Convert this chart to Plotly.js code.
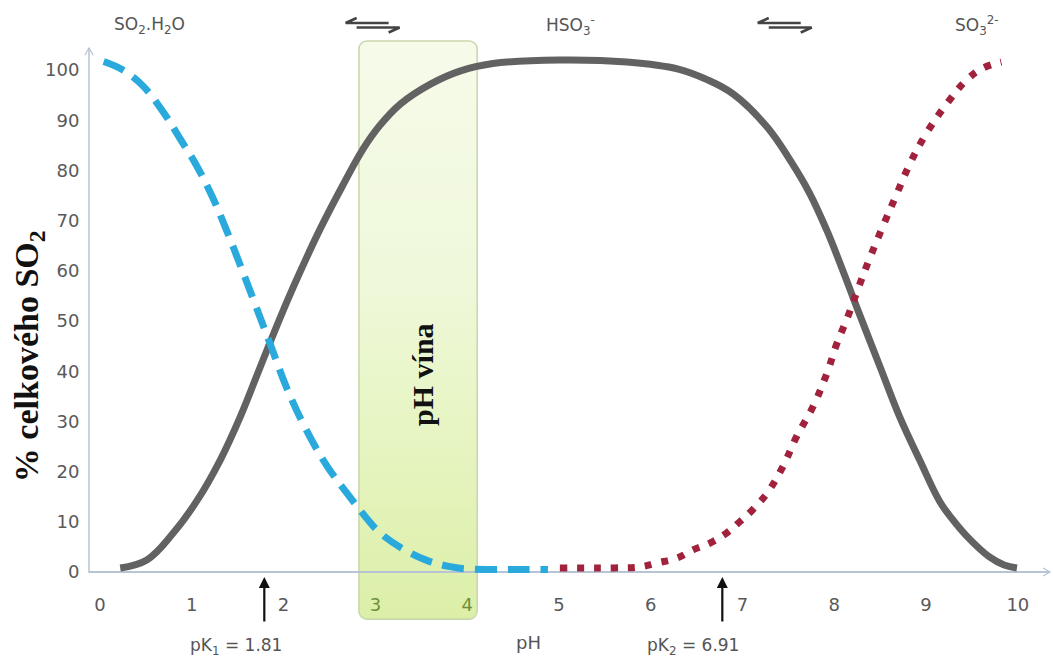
<!DOCTYPE html>
<html>
<head>
<meta charset="utf-8">
<script src="https://cdn.plot.ly/plotly-3.0.1.min.js"></script>
<style>html,body{margin:0;padding:0;background:#fff;}#chart{width:1053px;height:657px;}</style>
</head>
<body>
<div id="chart"></div>
<script>
// ---- data ----
const phH2SO3 = [0.04, 0.25, 0.47, 0.69, 0.87, 1.06, 1.23, 1.38, 1.52, 1.67, 1.85, 2.04, 2.25, 2.47, 2.69, 2.9, 3.05, 3.3, 3.56, 3.8, 4.0, 4.3, 4.6, 4.88];
const pctH2SO3 = [101.7, 100, 96.8, 91.6, 86.4, 80.7, 74.5, 68, 61.5, 54.3, 45.6, 36.4, 28.2, 21.2, 15.7, 10.8, 7.8, 4.6, 2.3, 1.1, 0.6, 0.5, 0.5, 0.5];

const phHSO3 = [0.22, 0.51, 0.8, 1.06, 1.31, 1.53, 1.71, 1.85, 2.04, 2.2, 2.4, 2.65, 2.87, 3.05, 3.27, 3.6, 3.92, 4.28, 5.0, 5.74, 6.3, 6.6, 6.9, 7.27, 7.52, 7.73, 7.92, 8.06, 8.25, 8.5, 8.71, 8.93, 9.15, 9.3, 9.44, 9.69, 9.85, 9.99];
const pctHSO3 = [0.8, 2.4, 7.8, 14.3, 22.3, 31, 39.2, 45.6, 54, 60.6, 68.4, 77.2, 84.4, 89, 93.2, 97.2, 99.8, 101.3, 102, 101.6, 100.2, 98.2, 95.2, 88.6, 82, 75.5, 68, 61.6, 52.5, 40.8, 31, 22.3, 14.0, 10.2, 7.2, 3, 1.4, 0.8];

const phSO3 = [5.01, 5.3, 5.6, 5.88, 6.07, 6.29, 6.46, 6.65, 6.83, 6.97, 7.11, 7.28, 7.44, 7.59, 7.77, 7.92, 8.03, 8.14, 8.25, 8.39, 8.53, 8.68, 8.82, 9.0, 9.23, 9.44, 9.62, 9.82];
const pctSO3 = [0.8, 0.8, 0.8, 1.0, 1.8, 2.8, 4.4, 5.8, 7.8, 10, 12.4, 16, 21, 27, 33, 39.6, 45.6, 50.5, 56, 62.7, 68.9, 75.3, 81.2, 87.3, 93.4, 98, 100.4, 101.6];

const xTickVals = [0, 1, 2, 3, 4, 5, 6, 7, 8, 9, 10];
const xTickText = ['0', '1', '2', '<span style="color:#6f8f3a">3</span>', '<span style="color:#6f8f3a">4</span>', '5', '6', '7', '8', '9', '10'];
const yTickVals = [0, 10, 20, 30, 40, 50, 60, 70, 80, 90, 100];

const speciesLabels = ['SO<sub>2</sub>.H<sub>2</sub>O', 'HSO<sub>3</sub><sup>-</sup>', 'SO<sub>3</sub><sup>2-</sup>'];
const speciesLabelX = [0.54, 5.13, 9.56];
const equilibriumX = [2.97, 7.46];

const pkLabels = ['pK<sub>1</sub> = 1.81', 'pK<sub>2</sub> = 6.91'];
const pkArrowX = [1.79, 6.78];
const pkLabelX = [1.48, 6.46];

const wineRange = [2.81, 4.12];   // pH of wine
const wineLabel = '<b>pH vína</b>';
const yTitle = '<b>% celkového SO<sub>2</sub></b>';
const xTitle = 'pH';

// ---- geometry ----
const W = 1053, H = 657;
const M = {l: 89, r: 3, t: 50, b: 70};
const plotW = W - M.l - M.r, plotH = H - M.t - M.b;
const xRange = [-0.12, 10.35], yRange = [-3, 104];
const xpx = v => M.l + (v - xRange[0]) / (xRange[1] - xRange[0]) * plotW;
const ypx = v => M.t + (yRange[1] - v) / (yRange[1] - yRange[0]) * plotH;
const pX = px => (px - M.l) / plotW;
const pY = py => (H - M.b - py) / plotH;

const tickColor = '#595959';
const sans = 'DejaVu Sans';
const serif = 'Liberation Serif';

const traces = [
  {x: phHSO3, y: pctHSO3, mode: 'lines', line: {color: '#626262', width: 7, shape: 'spline', smoothing: 1.1}, hoverinfo: 'skip'},
  {x: phH2SO3, y: pctH2SO3, mode: 'lines', line: {color: '#2aa9dc', width: 7, shape: 'spline', smoothing: 1.1, dash: '22px,11px'}, hoverinfo: 'skip'},
  {x: phSO3, y: pctSO3, mode: 'lines', line: {color: '#a0223c', width: 7, shape: 'spline', smoothing: 1.1, dash: '7px,10px'}, hoverinfo: 'skip'}
];

// wine box as gradient svg image
const boxSvg = "<svg xmlns='http://www.w3.org/2000/svg' width='120' height='580' viewBox='0 0 120 580' preserveAspectRatio='none'>" +
  "<defs><linearGradient id='g' x1='0' y1='0' x2='0' y2='1'>" +
  "<stop offset='0' stop-color='#f6fbea'/><stop offset='0.42' stop-color='#eff8da'/><stop offset='0.6' stop-color='#e9f6c9'/><stop offset='1' stop-color='#dcefa8'/>" +
  "</linearGradient></defs>" +
  "<rect x='1' y='1' width='118' height='578' rx='8' ry='8' fill='url(#g)' stroke='#cad7ae' stroke-width='1.6'/></svg>";
const boxTop = ypx(106), boxBot = ypx(-9.6);
const images = [{
  source: 'data:image/svg+xml;charset=utf-8,' + encodeURIComponent(boxSvg),
  xref: 'paper', yref: 'paper',
  x: pX(xpx(wineRange[0])), y: pY(boxTop),
  sizex: pX(xpx(wineRange[1])) - pX(xpx(wineRange[0])), sizey: pY(boxTop) - pY(boxBot),
  xanchor: 'left', yanchor: 'top', sizing: 'stretch', layer: 'below'
}];

const shapes = [];
const axisCol = '#b9c3d6';
const x0px = M.l;
shapes.push({type: 'line', xref: 'paper', yref: 'paper', x0: 0, x1: 0, y0: pY(ypx(0) + 1), y1: pY(48), line: {color: axisCol, width: 1.5}});
shapes.push({type: 'path', xref: 'paper', yref: 'paper', path: `M ${pX(x0px - 4)} ${pY(55)} L ${pX(x0px)} ${pY(48)} L ${pX(x0px + 4)} ${pY(55)}`, line: {color: axisCol, width: 1.3}});
const y0px = ypx(0);
shapes.push({type: 'path', xref: 'paper', yref: 'paper', path: `M ${pX(W - 10)} ${pY(y0px - 4)} L ${pX(W - 3)} ${pY(y0px)} L ${pX(W - 10)} ${pY(y0px + 4)}`, line: {color: axisCol, width: 1.3}});
equilibriumX.forEach(xv => {
  const c = xpx(xv);
  const col = '#444';
  shapes.push({type: 'path', xref: 'paper', yref: 'paper',
    path: `M ${pX(c + 16)} ${pY(23)} L ${pX(c - 27)} ${pY(23)} L ${pX(c - 16)} ${pY(18)}`, line: {color: col, width: 2.6}});
  shapes.push({type: 'path', xref: 'paper', yref: 'paper',
    path: `M ${pX(c - 16)} ${pY(27.5)} L ${pX(c + 27)} ${pY(27.5)} L ${pX(c + 16)} ${pY(32.5)}`, line: {color: col, width: 2.6}});
});

const annotations = [];
speciesLabels.forEach((t, i) => annotations.push({
  text: t, x: speciesLabelX[i], xref: 'x', y: pY(25), yref: 'paper', showarrow: false,
  xanchor: 'center', yanchor: 'middle', font: {family: sans, size: 17, color: '#555'}
}));
pkArrowX.forEach((xv, i) => {
  annotations.push({text: '', x: xv, xref: 'x', y: pY(577), yref: 'paper', showarrow: true, ax: 0, ay: 46,
    arrowhead: 2, arrowsize: 1, arrowwidth: 2.2, arrowcolor: '#111', standoff: 0});
  annotations.push({text: pkLabels[i], x: pkLabelX[i], xref: 'x', y: pY(646), yref: 'paper', showarrow: false,
    xanchor: 'center', yanchor: 'middle', font: {family: sans, size: 17, color: '#555'}});
});
annotations.push({text: xTitle, x: 4.67, xref: 'x', y: pY(643), yref: 'paper', showarrow: false,
  xanchor: 'center', yanchor: 'middle', font: {family: sans, size: 18, color: '#555'}});
annotations.push({text: yTitle, x: pX(29), xref: 'paper', y: 43, yref: 'y', showarrow: false, textangle: -90,
  xanchor: 'center', yanchor: 'middle', font: {family: serif, size: 34, color: '#111'}});
annotations.push({text: wineLabel, x: (wineRange[0] + wineRange[1]) / 2 + 0.04, xref: 'x', y: 39.4, yref: 'y', showarrow: false, textangle: -90,
  xanchor: 'center', yanchor: 'middle', font: {family: serif, size: 30, color: '#111'}});

const layout = {
  width: W, height: H,
  margin: {l: M.l, r: M.r, t: M.t, b: M.b, pad: 0},
  paper_bgcolor: '#ffffff', plot_bgcolor: '#ffffff',
  showlegend: false,
  xaxis: {range: xRange, tickvals: xTickVals, ticktext: xTickText, showgrid: false, zeroline: false, showline: false,
    ticks: 'outside', ticklen: 1, tickcolor: 'rgba(0,0,0,0)', tickfont: {family: sans, size: 18, color: tickColor}},
  yaxis: {range: yRange, tickvals: yTickVals, showgrid: false, zeroline: true, zerolinecolor: axisCol, zerolinewidth: 1.5,
    showline: false, ticks: 'outside', ticklen: 5, tickcolor: 'rgba(0,0,0,0)', tickfont: {family: sans, size: 18, color: tickColor}},
  shapes: shapes, annotations: annotations, images: images
};

Plotly.newPlot('chart', traces, layout, {displayModeBar: false, staticPlot: true});
</script>
</body>
</html>
